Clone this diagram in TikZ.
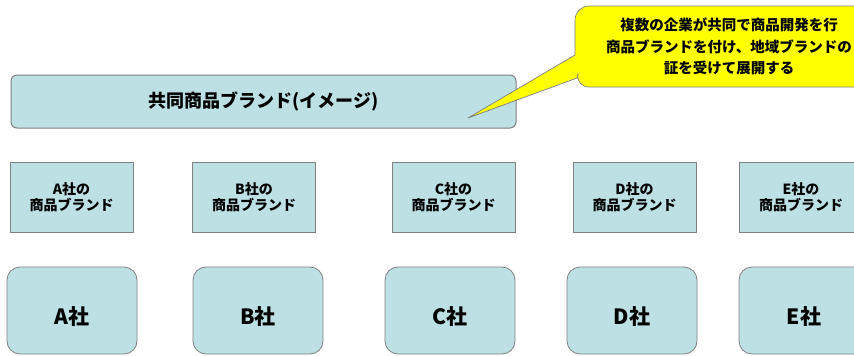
\documentclass[tikz,border=0pt]{standalone}
\usepackage{fontspec}
\newfontfamily\jp{Noto Sans CJK JP}
\definecolor{boxfill}{HTML}{BCE0E4}
\definecolor{boxline}{HTML}{808080}
\definecolor{callfill}{HTML}{FFFF00}
\begin{document}
\begin{tikzpicture}[x=1pt,y=-1pt,
  brandbox/.style={draw=boxline,fill=boxfill,line width=1pt,minimum width=123pt,minimum height=70pt,inner sep=0pt,align=center,font=\jp\bfseries\fontsize{14}{16}\selectfont},
  cobox/.style={draw=boxline,fill=boxfill,line width=0.8pt,rounded corners=13pt,minimum width=130pt,minimum height=87pt,inner sep=0pt,text height=28pt,text depth=0pt,font=\jp\bfseries\fontsize{21}{24}\selectfont},
  barbox/.style={draw=boxline,fill=boxfill,line width=1pt,rounded corners=6pt,minimum width=505pt,minimum height=53pt,inner sep=0pt,font=\jp\bfseries\fontsize{18}{20}\selectfont},
  calltext/.style={align=center,inner sep=0pt,font=\jp\bfseries\fontsize{14.5}{21.5}\selectfont}]
\useasboundingbox (0,0) rectangle (854,356);
\clip (0,0) rectangle (854,356);
\fill[white] (0,0) rectangle (854,356);
% top bar
\node[barbox] (bar) at (263.5,101.5) {共同商品ブランド(イメージ)};
% callout
\draw[draw=boxline,fill=callfill,line width=0.7pt,rounded corners=14pt]
  (575,55) -- (575,6) -- (925,6) -- (925,87) -- (575,87) [sharp corners]-- (577,78) -- (468,118) -- cycle;
\node[calltext] (note) at (729,46.5) {複数の企業が共同で商品開発を行\\商品ブランドを付け、地域ブランドの\\証を受けて展開する};
% brand boxes
\node[brandbox] (ba) at (71.5,197) {A社の\\商品ブランド};
\node[brandbox] (bb) at (254,197) {B社の\\商品ブランド};
\node[brandbox] (bc) at (453.5,197) {C社の\\商品ブランド};
\node[brandbox] (bd) at (634.5,197) {D社の\\商品ブランド};
\node[brandbox] (be) at (801,197) {E社の\\商品ブランド};
% company boxes
\node[cobox] (ca) at (72,310.5) {A社};
\node[cobox] (cb) at (258,310.5) {B社};
\node[cobox] (cc) at (450,310.5) {C社};
\node[cobox] (cd) at (632,310.5) {D社};
\node[cobox] (ce) at (804,310.5) {E社};
\end{tikzpicture}
\end{document}
